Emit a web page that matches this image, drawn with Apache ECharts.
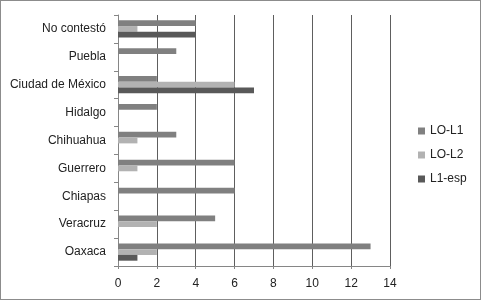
<!DOCTYPE html>
<html>
<head>
<meta charset="utf-8">
<script src="https://cdn.jsdelivr.net/npm/echarts@6/dist/echarts.min.js"></script>
<style>
  html, body { margin: 0; padding: 0; background: #fff; }
  #chart { width: 479px; height: 298px; border: 1px solid #8c8c8c; }
</style>
</head>
<body>
<div id="chart"></div>
<script>
// datos
const estados = ['Oaxaca', 'Veracruz', 'Chiapas', 'Guerrero', 'Chihuahua', 'Hidalgo', 'Ciudad de México', 'Puebla', 'No contestó'];
const loL1   = [13, 5, 6, 6, 3, 2, 2, 3, 4];
const loL2   = [2, 2, 0, 1, 1, 0, 6, 0, 1];
const l1Esp  = [1, 0, 0, 0, 0, 0, 7, 0, 4];
const xTicks = [0, 2, 4, 6, 8, 10, 12, 14];

const chart = echarts.init(document.getElementById('chart'));
const font = 'Liberation Sans, Arial, sans-serif';

chart.setOption({
  animation: false,
  textStyle: { fontFamily: font },
  grid: { left: 117, right: 90, top: 14, bottom: 33 },
  legend: {
    orient: 'vertical',
    left: 412, top: 119,
    itemWidth: 7, itemHeight: 7, itemGap: 12,
    icon: 'rect',
    data: ['LO-L1', 'LO-L2', 'L1-esp'],
    textStyle: { fontSize: 12, color: '#222', fontFamily: font }
  },
  xAxis: {
    type: 'value', min: 0, max: 14, interval: 2,
    axisLine: { show: true, lineStyle: { color: '#868686' } },
    axisTick: { show: true, length: 3, lineStyle: { color: '#868686' } },
    splitLine: { show: true, lineStyle: { color: '#5e5e5e' } },
    axisLabel: { fontSize: 12, color: '#222', margin: 12,
      formatter: v => xTicks.includes(v) ? String(v) : '' }
  },
  yAxis: {
    type: 'category', data: estados,
    axisLine: { show: true, lineStyle: { color: '#868686' } },
    axisTick: { show: true, length: 4, lineStyle: { color: '#868686' } },
    axisLabel: { fontSize: 12, color: '#222', margin: 12 }
  },
  series: [
    { name: 'LO-L1', type: 'bar', data: loL1, itemStyle: { color: '#808080' }, barGap: '0%', barCategoryGap: '38%' },
    { name: 'LO-L2', type: 'bar', data: loL2, itemStyle: { color: '#b2b2b2' }, barGap: '0%', barCategoryGap: '38%' },
    { name: 'L1-esp', type: 'bar', data: l1Esp, itemStyle: { color: '#595959' }, barGap: '0%', barCategoryGap: '38%' }
  ]
});
</script>
</body>
</html>
